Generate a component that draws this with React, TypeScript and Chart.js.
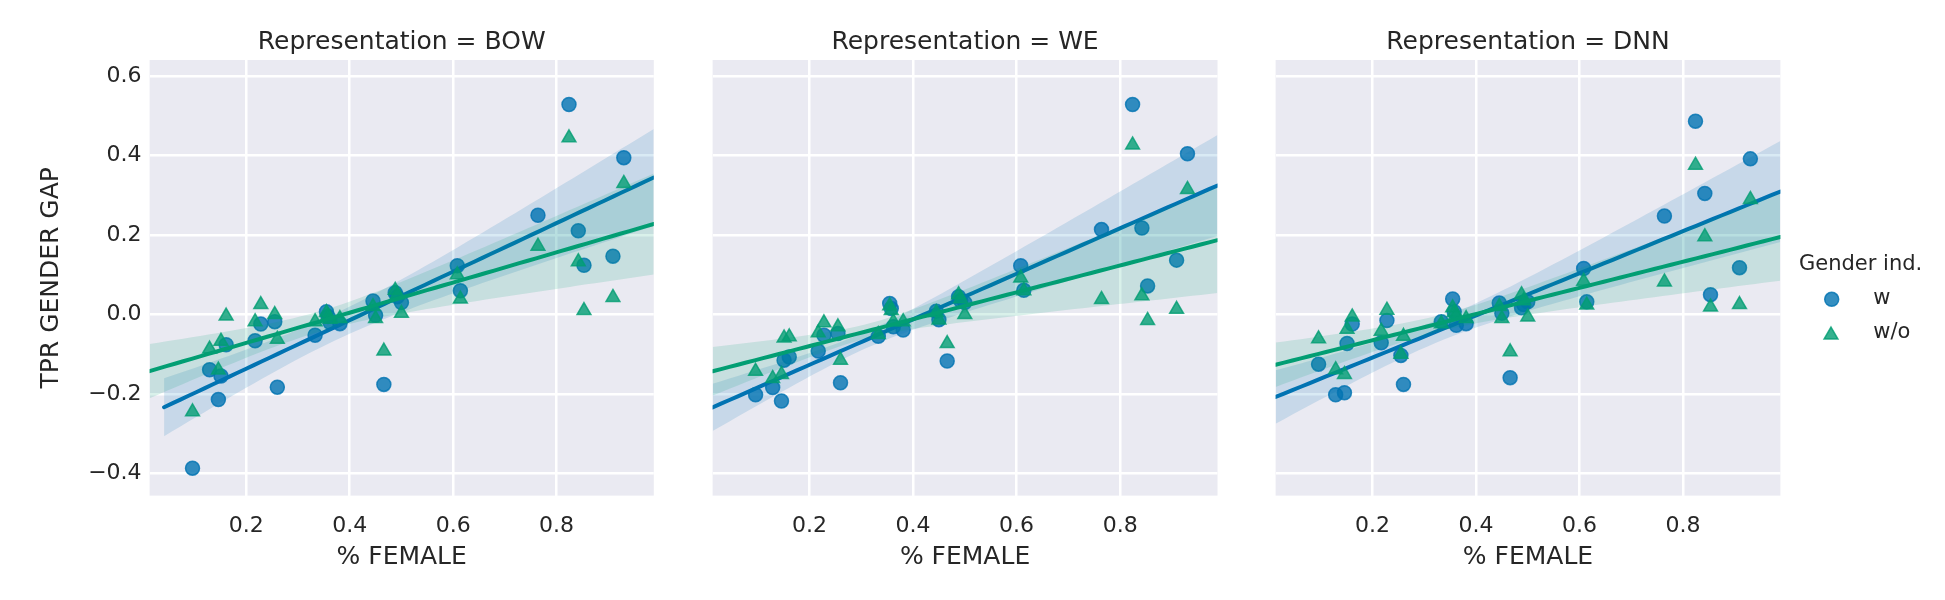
import React, { useEffect, useRef } from "react";
import { Chart, registerables } from "chart.js";

Chart.register(...registerables);

const FONT = "'DejaVu Sans', sans-serif";
const INK = "#262626";
const PANEL_BG = "#EAEAF2";

// Share of women per occupation (x) and TPR gender gap per representation (y)
const femaleShare = [0.096, 0.129, 0.146, 0.151, 0.161, 0.217, 0.228, 0.255, 0.26, 0.333, 0.355, 0.358, 0.362, 0.381, 0.445, 0.45, 0.466, 0.488, 0.492, 0.5, 0.608, 0.614, 0.764, 0.824, 0.842, 0.853, 0.909, 0.93];

const bowWith = [-0.387, -0.139, -0.214, -0.155, -0.076, -0.066, -0.024, -0.018, -0.183, -0.052, 0.007, -0.005, -0.02, -0.023, 0.034, -0.002, -0.176, 0.055, 0.045, 0.03, 0.123, 0.06, 0.25, 0.529, 0.211, 0.124, 0.147, 0.395];
const bowWithout = [-0.245, -0.087, -0.14, -0.067, -0.004, -0.018, 0.025, 0.0, -0.062, -0.018, 0.005, -0.003, -0.012, -0.01, 0.02, -0.01, -0.092, 0.061, 0.05, 0.003, 0.1, 0.039, 0.172, 0.445, 0.133, 0.01, 0.043, 0.33];

const weWith = [-0.202, -0.184, -0.218, -0.115, -0.107, -0.092, -0.052, -0.048, -0.172, -0.055, 0.028, 0.015, -0.031, -0.039, 0.008, -0.013, -0.117, 0.045, 0.035, 0.03, 0.123, 0.061, 0.214, 0.529, 0.218, 0.072, 0.137, 0.405];
const weWithout = [-0.143, -0.161, -0.151, -0.059, -0.056, -0.046, -0.021, -0.031, -0.115, -0.05, 0.022, 0.01, -0.018, -0.018, 0.005, -0.014, -0.073, 0.05, 0.04, 0.0, 0.092, 0.06, 0.038, 0.427, 0.047, -0.015, 0.013, 0.315];

const dnnWith = [-0.125, -0.202, -0.197, -0.073, -0.024, -0.071, -0.015, -0.103, -0.176, -0.018, 0.039, 0.007, -0.027, -0.023, 0.029, 0.003, -0.159, 0.017, 0.025, 0.032, 0.116, 0.032, 0.248, 0.487, 0.305, 0.05, 0.118, 0.392];
const dnnWithout = [-0.061, -0.139, -0.151, -0.037, -0.006, -0.042, 0.011, -0.1, -0.055, -0.023, 0.017, 0.005, 0.0, -0.01, 0.02, -0.01, -0.094, 0.05, 0.035, -0.006, 0.084, 0.024, 0.082, 0.376, 0.196, 0.019, 0.025, 0.29];

const xTicks = [0.2, 0.4, 0.6, 0.8];
const yTicks = [-0.4, -0.2, 0.0, 0.2, 0.4, 0.6];
const xLimits = [0.013, 0.988];
const yLimits = [-0.456, 0.641];

const xLabel = "% FEMALE";
const yLabel = "TPR GENDER GAP";
const legendTitle = "Gender ind.";
const seriesLabels = ["w", "w/o"];

const BLUE = [1, 115, 178];
const GREEN = [2, 158, 115];
const rgba = (c: number[], a: number) => `rgba(${c[0]},${c[1]},${c[2]},${a})`;

type PanelSpec = {
  title: string;
  withVals: number[];
  withoutVals: number[];
  withStart: number;
  canvasLeft: number;
  canvasWidth: number;
  plotLeft: number;
  plotRight: number;
  showY: boolean;
  legend: boolean;
};

const panels: PanelSpec[] = [
  { title: "Representation = BOW", withVals: bowWith, withoutVals: bowWithout, withStart: 0.041, canvasLeft: 0, canvasWidth: 680, plotLeft: 149.6, plotRight: 653.8, showY: true, legend: false },
  { title: "Representation = WE", withVals: weWith, withoutVals: weWithout, withStart: xLimits[0], canvasLeft: 690, canvasWidth: 550, plotLeft: 22.6, plotRight: 527.5, showY: false, legend: false },
  { title: "Representation = DNN", withVals: dnnWith, withoutVals: dnnWithout, withStart: xLimits[0], canvasLeft: 1250, canvasWidth: 695, plotLeft: 25.6, plotRight: 530.4, showY: false, legend: true },
];

const CANVAS_H = 600;
const PLOT_BOTTOM = 495.6;

// Least-squares fit; the 95% band for the fitted mean uses a
// heteroscedasticity-robust (sandwich) variance, close to a pairs bootstrap.
function regressionBand(xs: number[], ys: number[], x0: number, x1: number, steps = 60) {
  const n = xs.length;
  const mx = xs.reduce((s, v) => s + v, 0) / n;
  const my = ys.reduce((s, v) => s + v, 0) / n;
  let sxx = 0;
  let sxy = 0;
  for (let i = 0; i < n; i++) {
    sxx += (xs[i] - mx) ** 2;
    sxy += (xs[i] - mx) * (ys[i] - my);
  }
  const slope = sxy / sxx;
  const intercept = my - slope * mx;
  let s0 = 0;
  let s1 = 0;
  let s2 = 0;
  for (let i = 0; i < n; i++) {
    const d = xs[i] - mx;
    const e2 = (ys[i] - intercept - slope * xs[i]) ** 2;
    s0 += e2;
    s1 += e2 * d;
    s2 += e2 * d * d;
  }
  const corr = n / (n - 2);
  const line: { x: number; y: number }[] = [];
  const upper: { x: number; y: number }[] = [];
  const lower: { x: number; y: number }[] = [];
  for (let k = 0; k <= steps; k++) {
    const x = x0 + ((x1 - x0) * k) / steps;
    const d = x - mx;
    const yh = intercept + slope * x;
    const v = (s0 / (n * n) + (2 * d * s1) / (n * sxx) + (d * d * s2) / (sxx * sxx)) * corr;
    const half = 1.96 * Math.sqrt(Math.max(v, 0));
    line.push({ x, y: yh });
    upper.push({ x, y: yh + half });
    lower.push({ x, y: yh - half });
  }
  return { line, upper, lower };
}

const plotBackground = {
  id: "plotBackground",
  beforeDraw(chart: any) {
    const { ctx, chartArea: a } = chart;
    ctx.save();
    ctx.fillStyle = PANEL_BG;
    ctx.fillRect(a.left, a.top, a.right - a.left, a.bottom - a.top);
    ctx.restore();
  },
};

function drawMarker(ctx: CanvasRenderingContext2D, style: string, x: number, y: number, r: number, color: number[]) {
  ctx.save();
  ctx.fillStyle = rgba(color, 0.8);
  ctx.strokeStyle = rgba(color, 0.8);
  ctx.lineWidth = 1.5;
  ctx.beginPath();
  if (style === "circle") {
    ctx.arc(x, y, r, 0, Math.PI * 2);
  } else {
    let rad = 0;
    ctx.moveTo(x + Math.sin(rad) * r, y - Math.cos(rad) * r);
    rad += (2 * Math.PI) / 3;
    ctx.lineTo(x + Math.sin(rad) * r, y - Math.cos(rad) * r);
    rad += (2 * Math.PI) / 3;
    ctx.lineTo(x + Math.sin(rad) * r, y - Math.cos(rad) * r);
    ctx.closePath();
  }
  ctx.fill();
  ctx.stroke();
  ctx.restore();
}

const hueLegend = {
  id: "hueLegend",
  afterDraw(chart: any) {
    const { ctx, chartArea: a } = chart;
    const left = a.right + 18.6;
    ctx.save();
    ctx.fillStyle = INK;
    ctx.font = `21px ${FONT}`;
    ctx.textBaseline = "middle";
    ctx.textAlign = "left";
    ctx.fillText(legendTitle, left, 265);
    drawMarker(ctx, "circle", left + 32.7, 299.3, 7, BLUE);
    ctx.fillStyle = INK;
    ctx.fillText(seriesLabels[0], left + 74.3, 299);
    drawMarker(ctx, "triangle", left + 32, 335, 8, GREEN);
    ctx.fillStyle = INK;
    ctx.fillText(seriesLabels[1], left + 74.3, 333);
    ctx.restore();
  },
};

function buildConfig(spec: PanelSpec): any {
  const withFit = regressionBand(femaleShare, spec.withVals, spec.withStart, xLimits[1]);
  const withoutFit = regressionBand(femaleShare, spec.withoutVals, xLimits[0], xLimits[1]);
  const pts = (vals: number[]) => femaleShare.map((x, i) => ({ x, y: vals[i] }));

  const lineDs = (data: any[], color: number[], order: number) => ({
    data,
    borderColor: rgba(color, 1),
    borderWidth: 4,
    borderCapStyle: "round",
    pointRadius: 0,
    fill: false,
    tension: 0,
    order,
  });
  const bandDs = (data: any[], color: number[], order: number, fill: any) => ({
    data,
    borderWidth: 0,
    borderColor: "rgba(0,0,0,0)",
    backgroundColor: rgba(color, 0.15),
    pointRadius: 0,
    fill,
    tension: 0,
    order,
  });
  const scatterDs = (data: any[], color: number[], style: string, radius: number, order: number) => ({
    data,
    showLine: false,
    pointStyle: style,
    pointRadius: radius,
    pointBackgroundColor: rgba(color, 0.8),
    pointBorderColor: rgba(color, 0.8),
    pointBorderWidth: 1.5,
    order,
  });

  const datasets = [
    lineDs(withoutFit.line, GREEN, 0),
    bandDs(withoutFit.upper, GREEN, 1, 2),
    bandDs(withoutFit.lower, GREEN, 1, false),
    scatterDs(pts(spec.withoutVals), GREEN, "triangle", 8, 2),
    lineDs(withFit.line, BLUE, 3),
    bandDs(withFit.upper, BLUE, 4, 6),
    bandDs(withFit.lower, BLUE, 4, false),
    scatterDs(pts(spec.withVals), BLUE, "circle", 7, 5),
  ];

  const fmt = (v: number) => {
    const s = Math.abs(v).toFixed(1);
    return v < -1e-9 ? "\u2212" + s : s;
  };

  return {
    type: "line",
    data: { datasets },
    options: {
      animation: false,
      responsive: false,
      maintainAspectRatio: false,
      events: [],
      layout: { padding: { left: 0, right: spec.canvasWidth - spec.plotRight, top: 0, bottom: 0 } },
      plugins: {
        legend: { display: false },
        tooltip: { enabled: false },
        filler: { propagate: false },
        title: {
          display: true,
          text: spec.title,
          fullSize: false,
          color: INK,
          font: { family: FONT, size: 25, weight: "normal" },
          padding: { top: 27, bottom: 3 },
        },
      },
      scales: {
        x: {
          type: "linear",
          min: xLimits[0],
          max: xLimits[1],
          afterBuildTicks: (s: any) => {
            s.ticks = xTicks.map((v) => ({ value: v }));
          },
          afterFit: (s: any) => {
            s.height = CANVAS_H - PLOT_BOTTOM;
          },
          grid: { color: "#ffffff", lineWidth: 2.5, drawTicks: false },
          border: { display: false },
          ticks: {
            color: INK,
            font: { family: FONT, size: 22 },
            padding: 17,
            maxRotation: 0,
            callback: (v: number) => fmt(v),
          },
          title: {
            display: true,
            text: xLabel,
            color: INK,
            font: { family: FONT, size: 25 },
            padding: { top: 0, bottom: 28 },
          },
        },
        y: {
          type: "linear",
          min: yLimits[0],
          max: yLimits[1],
          afterBuildTicks: (s: any) => {
            s.ticks = yTicks.map((v) => ({ value: v }));
          },
          afterFit: (s: any) => {
            s.width = spec.plotLeft;
          },
          grid: { color: "#ffffff", lineWidth: 2.5, drawTicks: false },
          border: { display: false },
          ticks: {
            display: spec.showY,
            color: INK,
            font: { family: FONT, size: 22 },
            padding: 8,
            callback: (v: number) => fmt(v),
          },
          title: {
            display: spec.showY,
            text: yLabel,
            color: INK,
            font: { family: FONT, size: 25 },
            padding: { top: 36, bottom: 0 },
          },
        },
      },
    },
    plugins: spec.legend ? [plotBackground, hueLegend] : [plotBackground],
  };
}

function Panel({ spec }: { spec: PanelSpec }) {
  const ref = useRef<HTMLCanvasElement | null>(null);
  useEffect(() => {
    if (!ref.current) return;
    const chart = new Chart(ref.current, buildConfig(spec));
    return () => chart.destroy();
  }, [spec]);
  return (
    <canvas
      ref={ref}
      width={spec.canvasWidth}
      height={CANVAS_H}
      style={{ position: "absolute", left: spec.canvasLeft, top: 0, width: spec.canvasWidth, height: CANVAS_H }}
    />
  );
}

export default function App() {
  return (
    <div style={{ position: "fixed", left: 0, top: 0, width: 1945, height: CANVAS_H, background: "#ffffff", overflow: "hidden" }}>
      {panels.map((p) => (
        <Panel key={p.title} spec={p} />
      ))}
    </div>
  );
}
